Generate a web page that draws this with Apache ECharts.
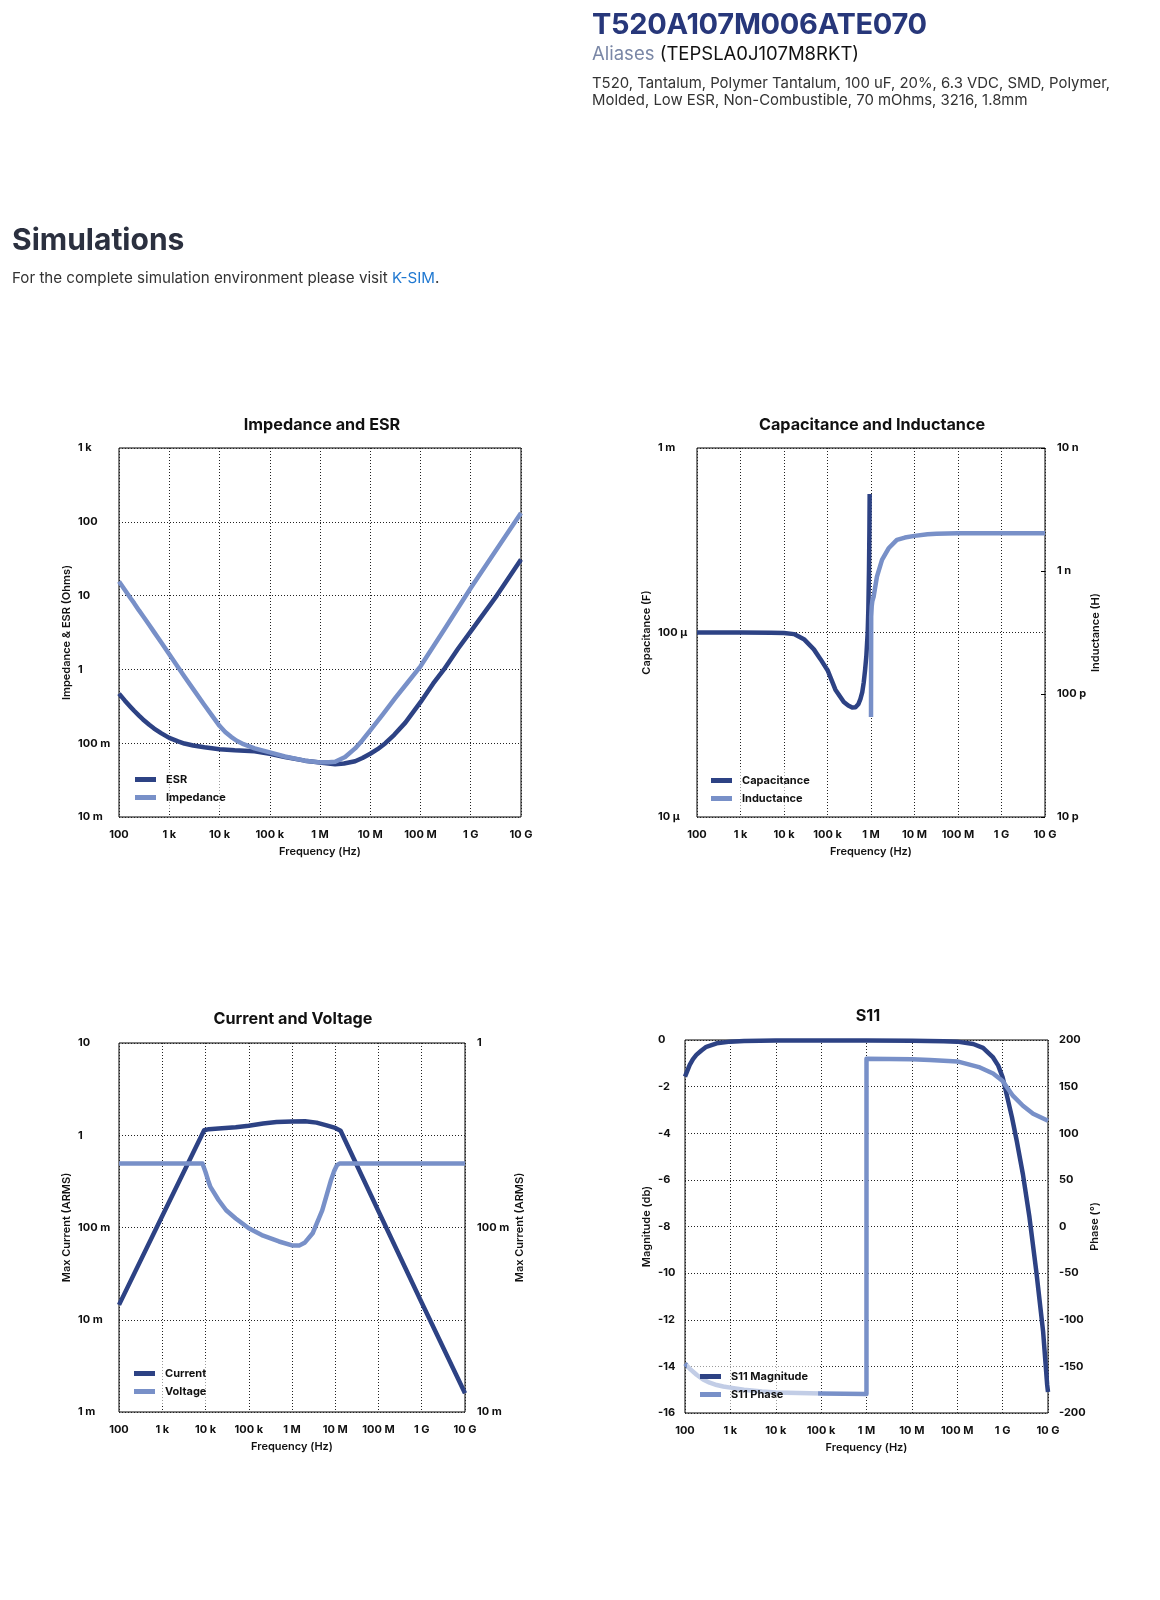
<!DOCTYPE html>
<html>
<head>
<meta charset="utf-8">
<script src="https://cdn.jsdelivr.net/npm/echarts@6/dist/echarts.min.js"></script>
<style>
html,body{margin:0;padding:0;background:#fff;width:1160px;height:1600px;overflow:hidden;font-family:Inter,"Open Sans",sans-serif;}
#chart{position:absolute;left:0;top:0;width:1160px;height:1600px;z-index:1;}
.t{position:absolute;white-space:nowrap;z-index:2;}
</style>
</head>
<body>
<div id="chart"></div>
<div class="t" style="left:592px;top:6px;font-weight:700;font-size:29px;color:#27377a;letter-spacing:-0.3px;">T520A107M006ATE070</div>
<div class="t" style="left:592px;top:42px;font-size:18.5px;color:#111;"><span style="color:#7a87a6">Aliases</span> (TEPSLA0J107M8RKT)</div>
<div class="t" style="left:592px;top:75px;font-size:14.9px;line-height:16.5px;color:#333;">T520, Tantalum, Polymer Tantalum, 100 uF, 20%, 6.3 VDC, SMD, Polymer,<br>Molded, Low ESR, Non-Combustible, 70 mOhms, 3216, 1.8mm</div>
<div class="t" style="left:12px;top:221px;font-weight:700;font-size:30px;color:#2b303f;">Simulations</div>
<div class="t" style="left:12px;top:268px;font-size:15.15px;color:#333;">For the complete simulation environment please visit <span style="color:#1f78d1">K-SIM</span>.</div>
<script>
// ---------- tick labels ----------
const freqTicks = ['100', '1 k', '10 k', '100 k', '1 M', '10 M', '100 M', '1 G', '10 G']; // 1e2..1e10
const ohmTicks = ['10 m', '100 m', '1', '10', '100', '1 k'];                           // 1e-2..1e3
const capTicks = ['10 µ', '100 µ', '1 m'];                                               // 1e-5..1e-3
const indTicks = ['10 p', '100 p', '1 n', '10 n'];                                       // 1e-11..1e-8
const curTicks = ['1 m', '10 m', '100 m', '1', '10'];                                    // 1e-3..1e1
const voltTicks = ['10 m', '100 m', '1'];                                                // 1e-2..1e0

// ---------- Impedance and ESR ----------
const freqEsr = [100, 130, 170, 200, 250, 300, 400, 500, 700, 1e3, 1.5e3, 2e3, 3e3, 5e3, 1e4, 2e4, 5e4, 1e5, 2e5, 5e5, 1e6, 2e6, 3e6, 5e6, 7e6, 1e7, 1.4e7, 2e7, 3e7, 5e7, 1e8, 1.78e8, 2.93e8, 5.62e8, 1e9, 3.3e9, 1e10];
const esrVals = [0.47, 0.38, 0.31, 0.275, 0.236, 0.21, 0.178, 0.158, 0.136, 0.118, 0.106, 0.099, 0.093, 0.088, 0.083, 0.080, 0.078, 0.072, 0.065, 0.058, 0.0547, 0.052, 0.053, 0.057, 0.063, 0.072, 0.083, 0.100, 0.13, 0.19, 0.36, 0.64, 1.0, 1.92, 3.28, 10, 30.8];
const freqImp = [100, 130, 170, 200, 250, 300, 400, 500, 700, 1e3, 1.5e3, 2e3, 3e3, 5e3, 7e3, 1e4, 1.3e4, 1.7e4, 2.2e4, 3e4, 5e4, 1e5, 2e5, 5e5, 1e6, 1.5e6, 2e6, 3.16e6, 5e6, 7e6, 1e7, 1.78e7, 3.16e7, 5.6e7, 1e8, 3.16e8, 1e9, 3.16e9, 1e10];
const impVals = [15.5, 12.0, 9.2, 7.9, 6.3, 5.3, 4.0, 3.2, 2.3, 1.6, 1.07, 0.80, 0.54, 0.33, 0.24, 0.172, 0.142, 0.122, 0.108, 0.097, 0.085, 0.075, 0.066, 0.058, 0.055, 0.055, 0.056, 0.065, 0.085, 0.11, 0.149, 0.245, 0.41, 0.67, 1.1, 3.7, 12.7, 41, 132];

// ---------- Capacitance and Inductance ----------
const freqCap = [100, 1e3, 5e3, 1e4, 1.7e4, 2.87e4, 4.86e4, 6.9e4, 1.02e5, 1.52e5, 2.37e5, 3e5, 3.7e5, 4.4e5, 5.1e5, 5.7e5, 6.3e5, 6.8e5, 7.3e5, 7.82e5, 8.39e5, 8.7e5, 9e5, 9.2e5, 9.32e5];
const capVals = [100e-6, 100e-6, 99.8e-6, 99.5e-6, 98e-6, 92e-6, 81e-6, 71.7e-6, 62e-6, 49e-6, 42e-6, 40.2e-6, 39.2e-6, 39.3e-6, 40.8e-6, 43.5e-6, 47.5e-6, 53.6e-6, 62.5e-6, 74.7e-6, 100e-6, 135e-6, 221e-6, 360e-6, 563e-6];
const freqInd = [1e6, 1.01e6, 1.04e6, 1.074e6, 1.15e6, 1.37e6, 1.79e6, 2.54e6, 3.94e6, 6e6, 1e7, 2e7, 3.2e7, 1e8, 1e9, 1e10];
const indVals = [65e-12, 425e-12, 520e-12, 570e-12, 620e-12, 0.9e-9, 1.23e-9, 1.53e-9, 1.79e-9, 1.87e-9, 1.93e-9, 1.99e-9, 2.01e-9, 2.03e-9, 2.03e-9, 2.03e-9];

// ---------- Current and Voltage ----------
const freqCur = [100, 1e3, 9.3e3, 1.2e4, 2e4, 5e4, 1e5, 2.15e5, 4.4e5, 1e6, 2e6, 3.7e6, 6.3e6, 1e7, 1.33e7, 1e8, 1e9, 1e10];
const curVals = [0.0145, 0.133, 1.135, 1.164, 1.18, 1.22, 1.27, 1.34, 1.39, 1.41, 1.42, 1.37, 1.28, 1.20, 1.12, 0.15, 0.0153, 0.0016];
const freqVolt = [100, 8.5e3, 1e4, 1.15e4, 1.3e4, 2e4, 3e4, 5e4, 1e5, 2e5, 5e5, 1e6, 1.5e6, 2e6, 3e6, 5e6, 8e6, 9.5e6, 1.1e7, 1.25e7, 1e8, 1e9, 1e10];
const voltVals = [0.222, 0.222, 0.2, 0.18, 0.166, 0.141, 0.124, 0.112, 0.099, 0.091, 0.084, 0.080, 0.080, 0.083, 0.093, 0.124, 0.181, 0.203, 0.218, 0.222, 0.222, 0.222, 0.222];

// ---------- S11 ----------
const freqMag = [100, 127, 150, 178, 230, 295, 500, 1e3, 2e3, 1e4, 1e5, 1e6, 1e7, 5e7, 1e8, 2.25e8, 3.7e8, 6.16e8, 8e8, 1e9, 1.22e9, 1.6e9, 2.05e9, 2.8e9, 3.9e9, 5.5e9, 7.8e9, 9.6e9, 1e10];
const magVals = [-1.57, -1.07, -0.82, -0.64, -0.45, -0.29, -0.14, -0.07, -0.04, -0.02, -0.02, -0.02, -0.03, -0.05, -0.07, -0.17, -0.34, -0.75, -1.1, -1.6, -2.32, -3.3, -4.33, -5.76, -7.6, -9.9, -12.5, -14.8, -15.1];
const freqPh = [100, 130, 180, 250, 350, 500, 700, 1e3, 2e3, 5e3, 1e4, 1e5, 999000, 1e6, 1e7, 2.5e7, 1e8, 3.16e8, 6.16e8, 1e9, 1.3e9, 1.7e9, 2.8e9, 4.7e9, 1e10];
const phVals = [-147, -153, -159, -164, -167.5, -170, -171.5, -172.8, -175, -177, -178, -179.2, -179.5, 180, 179.3, 178.5, 177, 170.6, 164, 156, 148, 140, 129.5, 121, 113.3];

// ---------- styling ----------
const FONT = 'Inter, "Open Sans", sans-serif';
const DARK = '#2d4284';
const LIGHT = '#7890c8';
const pairs = (xs, ys) => xs.map((x, i) => [x, ys[i]]);
const logFmt = (labels, minExp) => v => { const k = Math.round(Math.log10(v)) - minExp; return labels[k] !== undefined ? labels[k] : ''; };
const labelStyle = { fontSize: 11, fontWeight: 'bold', color: '#111', fontFamily: FONT };
const nameStyle = { fontSize: 11, fontWeight: 600, color: '#111', fontFamily: FONT };
const splitStyle = { show: true, lineStyle: { type: [1, 2], color: '#222', width: 1 } };

function xAxisCfg(gi, nameGap) {
  return {
    type: 'log', logBase: 10, gridIndex: gi, min: 100, max: 1e10,
    name: 'Frequency (Hz)', nameLocation: 'middle', nameGap: nameGap, nameTextStyle: nameStyle,
    axisLine: { show: false }, axisTick: { show: false },
    axisLabel: Object.assign({ formatter: logFmt(freqTicks, 2), margin: 12, showMinLabel: true, showMaxLabel: true }, labelStyle),
    splitLine: splitStyle
  };
}
function yLog(gi, min, max, labels, minExp, name, nameGap, margin, pos, split, tick) {
  return {
    type: 'log', logBase: 10, gridIndex: gi, min: min, max: max, position: pos,
    name: name, nameLocation: 'middle', nameGap: nameGap, nameRotate: 90, nameTextStyle: nameStyle,
    axisLine: { show: false },
    axisTick: tick ? { show: true, inside: true, length: 4, lineStyle: { color: '#000' } } : { show: false },
    axisLabel: Object.assign({ formatter: logFmt(labels, minExp), margin: margin, align: 'left', showMinLabel: true, showMaxLabel: true }, labelStyle),
    splitLine: split ? splitStyle : { show: false }
  };
}
function yVal(gi, min, max, interval, name, nameGap, margin, pos, split) {
  return {
    type: 'value', gridIndex: gi, min: min, max: max, interval: interval, position: pos,
    name: name, nameLocation: 'middle', nameGap: nameGap, nameRotate: 90, nameTextStyle: nameStyle,
    axisLine: { show: false }, axisTick: { show: false },
    axisLabel: Object.assign({ margin: margin, align: 'left' }, labelStyle),
    splitLine: split ? splitStyle : { show: false }
  };
}
function lineSeries(name, xi, yi, data, color) {
  return {
    name: name, type: 'line', xAxisIndex: xi, yAxisIndex: yi, data: data,
    showSymbol: false, smooth: false,
    lineStyle: { color: color, width: 4.5, join: 'round', cap: 'butt' }, itemStyle: { color: color }
  };
}
function legendCfg(names, left, top) {
  return {
    data: names, orient: 'vertical', left: left, top: top, icon: 'rect', z: 10,
    itemWidth: 21, itemHeight: 5, itemGap: 5, padding: [6, 10, 6, 13],
    backgroundColor: 'rgba(255,255,255,0.55)',
    textStyle: { fontSize: 11, fontWeight: 'bold', color: '#111', fontFamily: FONT, lineHeight: 13, padding: [0, 0, 0, 5] },
    selectedMode: false
  };
}
const gridBase = { show: true, borderColor: '#000', borderWidth: 1, backgroundColor: 'transparent', containLabel: false };
const titleStyle = { fontSize: 16.2, fontWeight: 700, color: '#111', fontFamily: FONT };

const option = {
  animation: false,
  title: [
    { text: 'Impedance and ESR', left: 317, top: 412, textAlign: 'center', textStyle: titleStyle },
    { text: 'Capacitance and Inductance', left: 867, top: 412, textAlign: 'center', textStyle: titleStyle },
    { text: 'Current and Voltage', left: 288, top: 1006, textAlign: 'center', textStyle: titleStyle },
    { text: 'S11', left: 863, top: 1003, textAlign: 'center', textStyle: titleStyle }
  ],
  grid: [
    Object.assign({ left: 119, top: 448, width: 402, height: 369 }, gridBase),
    Object.assign({ left: 697, top: 448, width: 348, height: 369 }, gridBase),
    Object.assign({ left: 119, top: 1043, width: 346, height: 369 }, gridBase),
    Object.assign({ left: 685, top: 1040, width: 363, height: 373 }, gridBase)
  ],
  xAxis: [xAxisCfg(0, 29), xAxisCfg(1, 29), xAxisCfg(2, 29), xAxisCfg(3, 29)],
  yAxis: [
    yLog(0, 0.01, 1000, ohmTicks, -2, 'Impedance & ESR (Ohms)', 47, 41, 'left', true, false),
    yLog(1, 1e-5, 1e-3, capTicks, -5, 'Capacitance (F)', 45, 39, 'left', true, false),
    yLog(1, 1e-11, 1e-8, indTicks, -11, 'Inductance (H)', 45, 12, 'right', false, true),
    yLog(2, 1e-3, 10, curTicks, -3, 'Max Current (ARMS)', 47, 41, 'left', true, false),
    yLog(2, 0.01, 1, voltTicks, -2, 'Max Current (ARMS)', 49, 12, 'right', false, false),
    yVal(3, -16, 0, 2, 'Magnitude (db)', 33, 27, 'left', true),
    yVal(3, -200, 200, 50, 'Phase (°)', 41, 11, 'right', false)
  ],
  legend: [
    legendCfg(['ESR', 'Impedance'], 122, 767),
    legendCfg(['Capacitance', 'Inductance'], 698, 768),
    legendCfg(['Current', 'Voltage'], 121, 1361),
    legendCfg(['S11 Magnitude', 'S11 Phase'], 687, 1364)
  ],
  series: [
    lineSeries('ESR', 0, 0, pairs(freqEsr, esrVals), DARK),
    lineSeries('Impedance', 0, 0, pairs(freqImp, impVals), LIGHT),
    lineSeries('Capacitance', 1, 1, pairs(freqCap, capVals), DARK),
    lineSeries('Inductance', 1, 2, pairs(freqInd, indVals), LIGHT),
    lineSeries('Current', 2, 3, pairs(freqCur, curVals), DARK),
    lineSeries('Voltage', 2, 4, pairs(freqVolt, voltVals), LIGHT),
    lineSeries('S11 Magnitude', 3, 5, pairs(freqMag, magVals), DARK),
    lineSeries('S11 Phase', 3, 6, pairs(freqPh, phVals), LIGHT)
  ]
};
const chart = echarts.init(document.getElementById('chart'), null, { renderer: 'canvas' });
chart.setOption(option);
</script>
</body>
</html>
